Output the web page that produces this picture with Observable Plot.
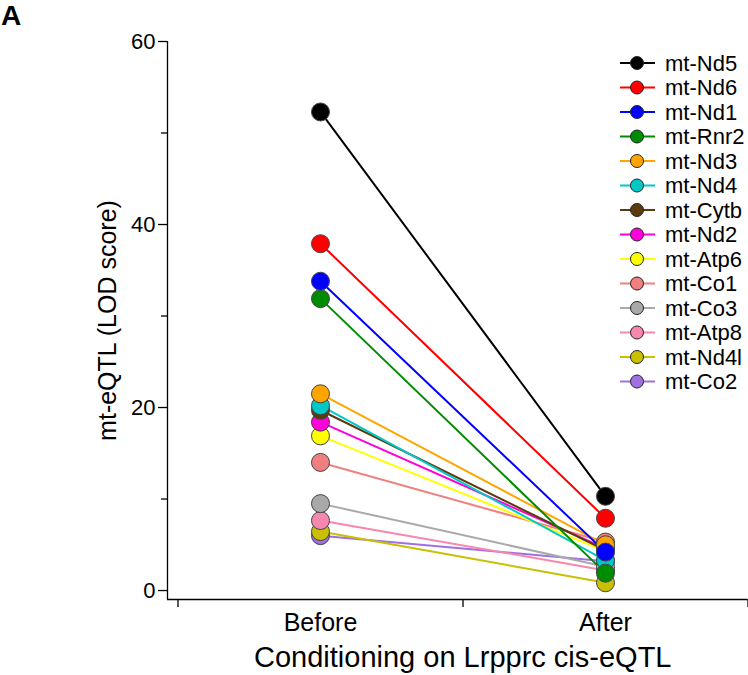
<!DOCTYPE html>
<html>
<head>
<meta charset="utf-8">
<script src="https://cdn.jsdelivr.net/npm/d3@7"></script>
<script src="https://cdn.jsdelivr.net/npm/@observablehq/plot@0.6"></script>
<style>
  body { margin: 0; background: #fff; font-family: "Liberation Sans", Arial, sans-serif; }
  #wrap { position: relative; width: 748px; height: 675px; }
  #panel { position: absolute; left: 1px; top: 2px; font-weight: bold; font-size: 28px; line-height: 28px; font-family: "Liberation Sans", Arial, sans-serif; }
  #legend { position: absolute; left: 0; top: 0; }
</style>
</head>
<body>
<div id="wrap">
  <div id="chart"></div>
  <div id="panel">A</div>
  <svg id="legend" width="748" height="420"></svg>
</div>
<script>
const genes = ["mt-Nd5","mt-Nd6","mt-Nd1","mt-Rnr2","mt-Nd3","mt-Nd4","mt-Cytb","mt-Nd2","mt-Atp6","mt-Co1","mt-Co3","mt-Atp8","mt-Nd4l","mt-Co2"];
const colors = ["#000000","#ff0000","#0000ff","#008c00","#ffa500","#00c8c8","#5c3a0e","#ff00dd","#ffff00","#f08080","#a9a9a9","#f887b0","#c8c000","#a070e0"];
const before = [52.3, 37.9, 33.8, 31.9, 21.5, 20.2, 19.7, 18.4, 16.9, 14.0, 9.5, 7.65, 6.45, 6.0];
const after  = [10.3, 7.9, 4.2, 1.9, 5.0, 3.3, 4.4, 4.6, 4.3, 5.3, 2.6, 2.2, 0.85, 3.2];
const conditions = ["Before", "After"];
const yTicks = [0, 20, 40, 60];
const yMinor = [10, 30, 50];
const xLabel = "Conditioning on Lrpprc cis-eQTL";
const yLabel = "mt-eQTL (LOD score)";

// long table; reverse so first-listed genes are drawn on top
const rows = [];
for (let i = genes.length - 1; i >= 0; i--) {
  rows.push({gene: genes[i], cond: 1, value: before[i]});
  rows.push({gene: genes[i], cond: 2, value: after[i]});
}
const xDom = [0.4632, 2.5];
const yDom = [-0.98, 60];
const colorScale = {domain: genes, range: colors};

const chart = Plot.plot({
  width: 748, height: 675,
  marginLeft: 167, marginRight: 0.5, marginTop: 41, marginBottom: 76,
  style: {fontFamily: "'Liberation Sans', Arial, sans-serif", color: "#000", background: "#fff", overflow: "visible"},
  x: {domain: xDom, axis: null},
  y: {domain: yDom, axis: null},
  color: colorScale,
  marks: [
    Plot.ruleY([yDom[0]], {stroke: "#000", strokeWidth: 1.3}),
    Plot.ruleX([xDom[0]], {y1: yDom[0], y2: 60, stroke: "#000", strokeWidth: 1.3}),
    Plot.axisY({ticks: yTicks, tickSize: 9, tickPadding: 3, fontSize: 22, label: null, strokeWidth: 1.3}),
    Plot.axisY({ticks: yMinor, tickSize: 6, text: null, label: null, strokeWidth: 1.3}),
    Plot.axisX({ticks: [0.5, 1.5, 2.5], tickSize: 8, text: null, label: null, strokeWidth: 1.3}),
    Plot.axisX({ticks: [1, 2], tickSize: 0, tickPadding: 14, fontSize: 25, label: null, tickFormat: d => conditions[d - 1]}),
    Plot.text([yLabel], {frameAnchor: "left", dx: -60, rotate: -90, textAnchor: "middle", lineAnchor: "middle", fontSize: 25, text: d => d, fill: "#000"}),
    Plot.text([xLabel], {frameAnchor: "bottom", dx: 5, dy: 58, textAnchor: "middle", lineAnchor: "middle", fontSize: 29, text: d => d, fill: "#000"}),
    Plot.line(rows, {x: "cond", y: "value", z: "gene", stroke: "gene", strokeWidth: 2}),
    Plot.dot(rows, {x: "cond", y: "value", fill: "gene", r: 9, stroke: "#444", strokeWidth: 1})
  ]
});
document.getElementById("chart").appendChild(chart);

// legend
const lg = d3.select("#legend");
const y0 = 63, dy = 24.5;
genes.forEach((g, i) => {
  const y = y0 + i * dy;
  const gr = lg.append("g");
  gr.append("line").attr("x1", 620).attr("x2", 655).attr("y1", y).attr("y2", y)
    .attr("stroke", colors[i]).attr("stroke-width", 2);
  gr.append("circle").attr("cx", 637).attr("cy", y).attr("r", 6.5)
    .attr("fill", colors[i]).attr("stroke", "#222").attr("stroke-width", 1);
  gr.append("text").attr("x", 665).attr("y", y).attr("dy", "0.35em")
    .attr("font-size", 22).attr("font-family", "'Liberation Sans', Arial, sans-serif")
    .text(g);
});
</script>
</body>
</html>
